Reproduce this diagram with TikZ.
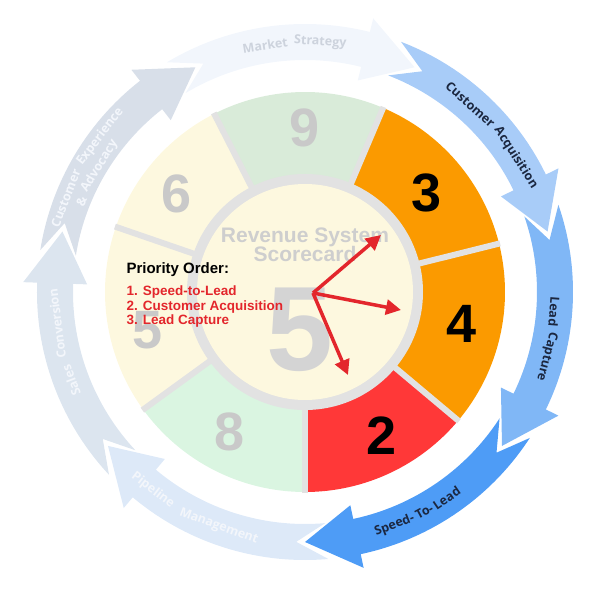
\documentclass[tikz,border=0pt]{standalone}
\usepackage{fontspec}
\setmainfont{Liberation Sans}
\newfontfamily\arcfont{Open Sans}
\usetikzlibrary{arrows.meta}
\definecolor{sep}{HTML}{E2E2E2}
\definecolor{cream}{HTML}{FDF8DF}
\definecolor{gA}{HTML}{D9EBD9}
\definecolor{gB}{HTML}{DAF5E1}
\definecolor{orng}{HTML}{FB9A00}
\definecolor{redc}{HTML}{FF3838}
\definecolor{numg}{HTML}{C9C9C9}
\definecolor{txtred}{HTML}{E3262C}
\definecolor{navy}{HTML}{1B2740}
\definecolor{a1}{HTML}{F2F6FC}
\definecolor{a2}{HTML}{A8CCF8}
\definecolor{a3}{HTML}{80B7F6}
\definecolor{a4}{HTML}{4E9CF6}
\definecolor{a5}{HTML}{DDE9F8}
\definecolor{a6}{HTML}{DCE5EF}
\definecolor{a7}{HTML}{D8DFE9}
\definecolor{msT}{HTML}{CDD3DD}
\definecolor{wT}{HTML}{F3F6FB}
\begin{document}
\begin{tikzpicture}[x=1pt,y=1pt,
  num/.style={font=\bfseries\fontsize{54}{54}\selectfont},
  w/.style={inner sep=0pt,font=\arcfont\bfseries\fontsize{12.5}{12.5}\selectfont},
  redarrow/.style={draw=txtred,line width=3.5pt,-{Triangle[length=15pt,width=15pt]}}]
\useasboundingbox (-305,-308) rectangle (295,292);
\coordinate (o) at (0,0);
% outer arrows
\newcommand\ringarrow[3]{%
  \fill[#3] (#1:268) arc[start angle=#1,end angle={#2+12},radius=268]
   -- ({#2+12}:282) -- (#2:250) -- ({#2+12}:218) -- ({#2+12}:232)
   arc[start angle={#2+12},end angle=#1,radius=232] -- ({#1-7}:250) -- cycle;}
\ringarrow{121}{64}{a1}
\ringarrow{69}{14}{a2}
\ringarrow{19}{-38}{a3}
\ringarrow{-33}{-90}{a4}
\ringarrow{-85}{-142}{a5}
\ringarrow{-137}{-194}{a6}
\ringarrow{-189}{-244}{a7}
% arc labels: clockwise (cw) and counterclockwise (ccw)
\newcommand\cw[5]{\node[w,text=#4,rotate={#2-90}] (#5) at (#2:#3) {#1};}
\newcommand\ccw[5]{\node[w,text=#4,rotate={#2+90}] (#5) at (#2:#3) {#1};}
\cw{Market}{99.2}{250}{msT}{ms1}
\cw{Strategy}{86.5}{250}{msT}{ms2}
\cw{Customer}{48.6}{250}{navy}{ca1}
\cw{Acquisition}{32.5}{250}{navy}{ca2}
\cw{Lead}{-4.5}{250}{navy}{lc1}
\cw{Capture}{-15}{250}{navy}{lc2}
\ccw{Speed-}{-69}{250}{navy}{st1}
\ccw{To-}{-61.5}{250}{navy}{st2}
\ccw{Lead}{-55.5}{250}{navy}{st3}
\ccw{Pipeline}{-127.5}{250}{wT}{pm1}
\ccw{Management}{-110.2}{250}{wT}{pm2}
\cw{Sales}{200.75}{250}{wT}{sc1}
\cw{Conversion}{187.25}{250}{wT}{sc2}
\cw{Customer}{158.6}{257}{wT}{ce1}
\cw{Experience}{142.8}{257}{wT}{ce2}
\cw{\&}{158}{241}{wT}{ce3}
\cw{Advocacy}{148.5}{241}{wT}{ce4}
% sectors
\newcommand\sect[3]{\fill[#3] (#1:117) arc[start angle=#1,end angle=#2,radius=117] -- (#2:200) arc[start angle=#2,end angle=#1,radius=200] -- cycle;}
\sect{67}{117}{gA}
\sect{14}{67}{orng}
\sect{-40}{14}{orng}
\sect{-90}{-40}{redc}
\sect{-144}{-90}{gB}
\sect{161}{216}{cream}
\sect{117}{161}{cream}
\foreach \a in {67,14,-40,-90,-144,161,117}
  \draw[sep,line width=6pt] (\a:115) -- (\a:201);
\fill[sep] (o) circle[radius=118];
\fill[cream] (o) circle[radius=108];
% numbers
\node[num,numg] (n9) at (0,164) {9};
\node[num] (n3) at (122,99) {3};
\node[num] (n4) at (157,-32) {4};
\node[num] (n2) at (77,-144) {2};
\node[num,numg] (n8) at (-75,-140) {8};
\node[num,numg] (n5) at (-157,-38) {5};
\node[num,numg] (n6) at (-128,98) {6};
\node[font=\bfseries\fontsize{120}{120}\selectfont,text=numg!80] (big5) at (-5,-38) {5};
\node[font=\bfseries\fontsize{21}{21}\selectfont,text=numg!90,align=center] (title) at (0,47) {Revenue System\\[-2pt]Scorecard};
\node[anchor=west,font=\bfseries\fontsize{15}{15}\selectfont] (po) at (-182,22) {Priority Order:};
\node[anchor=west,font=\bfseries\fontsize{13.5}{13.5}\selectfont,text=txtred,align=left] (list) at (-182,-15) {1. Speed-to-Lead\\[1pt]2. Customer Acquisition\\[1pt]3. Lead Capture};
\coordinate (ra) at (8,-1);
\coordinate (t1) at (76,57);
\coordinate (t2) at (96,-18);
\coordinate (t3) at (43,-83);
\draw[redarrow] (ra) -- (t1);
\draw[redarrow] (ra) -- (t2);
\draw[redarrow] (ra) -- (t3);
\end{tikzpicture}
\end{document}
